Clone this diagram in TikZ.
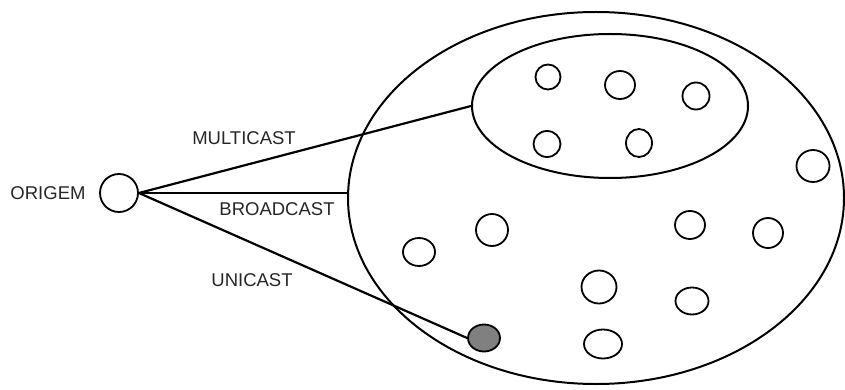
\documentclass[tikz,border=0pt]{standalone}
\usepackage{fontspec}
\setmainfont{Liberation Sans}
\usetikzlibrary{shapes.geometric}
\tikzset{
  host/.style={draw, ellipse, line width=1.8pt, inner sep=0pt},
  rede/.style={draw, ellipse, line width=2pt, inner sep=0pt},
  rotulo/.style={font=\fontsize{18.5}{22}\selectfont, text=black!85},
  ligacao/.style={line width=2.2pt}
}

\begin{document}
\begin{tikzpicture}[x=1pt, y=-1pt]
\useasboundingbox (0,0) rectangle (845,390);
% redes
\node[rede, minimum width=496pt, minimum height=372pt] (todos) at (596,198) {};
\node[rede, minimum width=276pt, minimum height=144pt] (grupo) at (610,106) {};
% nos
\foreach \nome/\x/\y/\w/\h in {a/548/77/25/25, b/620/85/30/28, c/696/96/27/27,
    d/547/144/27/26, e/639/143/26/28, f/813/166/33/32, g/492/230/32/32,
    h/419/252/32/28, i/690/225/30/28, j/768/233/30/30, k/599/287/35/33,
    l/692/301/33/27, m/603/344/38/29}
  \node[host, minimum width=\w pt, minimum height=\h pt] (no-\nome) at (\x,\y) {};
\node[host, fill=black!50, minimum width=32pt, minimum height=27pt] (destino) at (484,338) {};
\node[draw, circle, line width=1.8pt, minimum size=38pt, inner sep=0pt] (origem) at (119,193) {};
% ligacoes
\draw[ligacao] (origem.east) -- (grupo.west);
\draw[ligacao] (origem.east) -- (origem.east -| todos.west);
\draw[ligacao] (origem.east) -- (destino.west);
% rotulos
\node[rotulo] (t-origem) at (48,193) {ORIGEM};
\node[rotulo] (t-multi) at (244,138) {MULTICAST};
\node[rotulo] (t-broad) at (277,209) {BROADCAST};
\node[rotulo] (t-uni) at (252,280) {UNICAST};
\end{tikzpicture}
\end{document}
